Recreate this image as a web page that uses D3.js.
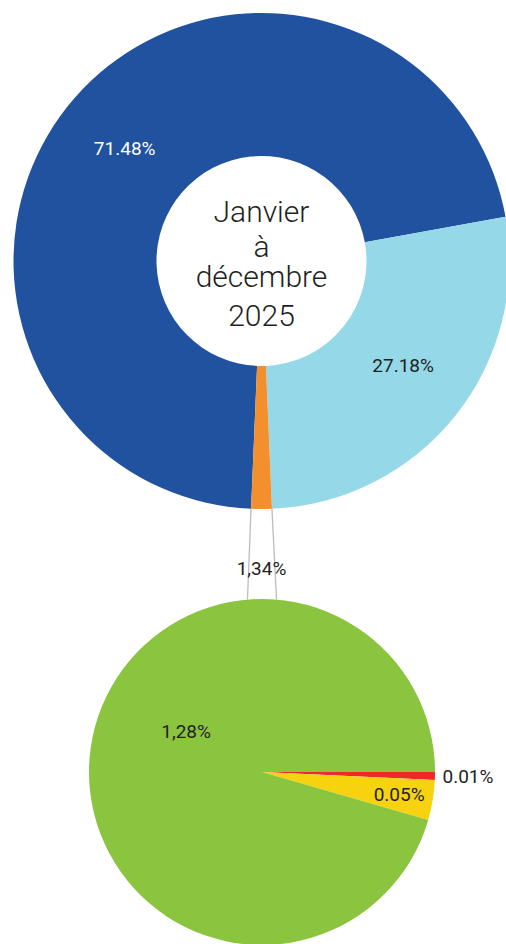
<!DOCTYPE html>
<html>
<head>
<meta charset="utf-8">
<script src="https://cdn.jsdelivr.net/npm/d3@7"></script>
<style>
  html, body { margin: 0; padding: 0; background: #fff; overflow: hidden; }
  svg { display: block; font-family: Roboto, "Liberation Sans", sans-serif; }
</style>
</head>
<body>
<div class="interactive-wrapper"></div>
<script>
// main donut
const mainLabels = ['71.48%', '27.18%', '1,34%']
const mainValues = [71.48, 27.18, 1.34]
const mainColors = ['#2152a0', '#95d8e8', '#f38f2d']

// detail pie (breakdown of the 1,34%)
const subLabels = ['0.01%', '0.05%', '1,28%']
const subValues = [0.01, 0.05, 1.28]
const subColors = ['#ec2a2c', '#f6d20f', '#8bc43f']

const centerLines = ['Janvier', 'à', 'décembre', '2025']

const width = 506, height = 944;
const toRad = d => d * Math.PI / 180;

const svg = d3.select('.interactive-wrapper').append('svg')
  .attr('width', width)
  .attr('height', height);

// --- top donut
const cx = 261.5, cy = 261, rOut = 248, rIn = 105;
const mainTotal = d3.sum(mainValues);
const orangeSpan = 360 * mainValues[2] / mainTotal;
const mainStart = toRad(180 + orangeSpan / 2);

const mainPie = d3.pie().sort(null).value(d => d)
  .startAngle(mainStart).endAngle(mainStart + 2 * Math.PI);
const mainArcs = mainPie(mainValues);

const arc = d3.arc().innerRadius(rIn).outerRadius(rOut);

const donutG = svg.append('g').attr('transform', `translate(${cx},${cy})`);

donutG.selectAll('path')
  .data(mainArcs)
  .join('path')
  .attr('d', arc)
  .attr('fill', (d, i) => mainColors[i]);

donutG.selectAll('text.lab')
  .data(mainArcs.slice(0, 2))
  .join('text')
  .attr('class', 'lab')
  .attr('transform', d => `translate(${arc.centroid(d)})`)
  .attr('dx', d => d.index == 0 ? '-0.2em' : '0.2em')
  .attr('dy', d => d.index == 1 ? '0.05em' : '0.55em')
  .attr('text-anchor', 'middle')
  .attr('font-size', 19)
  .attr('fill', (d, i) => i == 0 ? '#fff' : '#231f20')
  .text((d, i) => mainLabels[i]);

const centerY = [222, 257, 287, 326];
donutG.selectAll('text.center')
  .data(centerLines)
  .join('text')
  .attr('class', 'center')
  .attr('x', 0)
  .attr('y', (d, i) => centerY[i] - cy)
  .attr('text-anchor', 'middle')
  .attr('font-size', 30)
  .attr('font-weight', 300)
  .attr('fill', '#231f20')
  .text(d => d);

// --- bottom pie
const bx = 262, by = 772, rSub = 173;
const subPie = d3.pie().sort(null).value(d => d)
  .startAngle(toRad(90)).endAngle(toRad(450));
const subArcs = subPie(subValues);
const subArc = d3.arc().innerRadius(0).outerRadius(rSub);

// connector lines from the orange slice to the detail pie
const orange = mainArcs[2];
const linePts = [
  [orange.startAngle, toRad(orangeSpan)],
  [orange.endAngle, -toRad(orangeSpan)]
].map(([a, b]) => ({
  x1: cx + rOut * Math.sin(a), y1: cy - rOut * Math.cos(a),
  x2: bx + rSub * Math.sin(b), y2: by - rSub * Math.cos(b)
}));

svg.selectAll('line.conn')
  .data(linePts)
  .join('line')
  .attr('class', 'conn')
  .attr('x1', d => d.x1).attr('y1', d => d.y1)
  .attr('x2', d => d.x2).attr('y2', d => d.y2)
  .attr('stroke', '#bcbcbc')
  .attr('stroke-width', 1.3);

svg.append('text')
  .attr('x', (linePts[0].x1 + linePts[1].x1) / 2)
  .attr('y', 575)
  .attr('text-anchor', 'middle')
  .attr('font-size', 19)
  .attr('fill', '#231f20')
  .text(mainLabels[2]);

const pieG = svg.append('g').attr('transform', `translate(${bx},${by})`);

pieG.selectAll('path')
  .data(subArcs)
  .join('path')
  .attr('d', subArc)
  .attr('fill', (d, i) => subColors[i]);

// label radius / angle nudges per slice
const labR = [206, 139, 86];
const labShift = [0, 0, 20];
pieG.selectAll('text')
  .data(subArcs)
  .join('text')
  .attr('transform', (d, i) => {
    const a = (d.startAngle + d.endAngle) / 2 + toRad(labShift[i]);
    return `translate(${labR[i] * Math.sin(a)},${-labR[i] * Math.cos(a)})`;
  })
  .attr('dy', '0.35em')
  .attr('text-anchor', 'middle')
  .attr('font-size', 19)
  .attr('fill', '#231f20')
  .text((d, i) => subLabels[i]);
</script>
</body>
</html>
